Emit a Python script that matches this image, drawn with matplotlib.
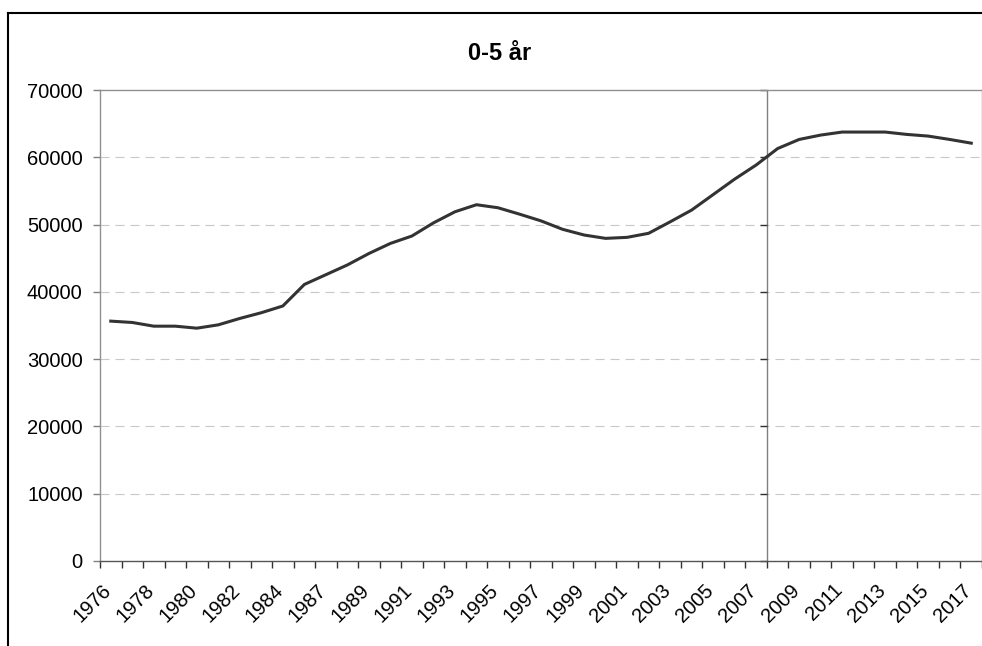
import numpy as np
import matplotlib
matplotlib.use("Agg")
import matplotlib.pyplot as plt
from matplotlib.lines import Line2D
from matplotlib.markers import TICKLEFT

plt.rcParams['font.family'] = ['Liberation Sans', 'DejaVu Sans']
plt.rcParams['lines.scale_dashes'] = False

# years on the category axis (1985 is not in the series)
years = [1976, 1977, 1978, 1979, 1980, 1981, 1982, 1983, 1984, 1986,
         1987, 1988, 1989, 1990, 1991, 1992, 1993, 1994, 1995, 1996,
         1997, 1998, 1999, 2000, 2001, 2002, 2003, 2004, 2005, 2006,
         2007, 2008, 2009, 2010, 2011, 2012, 2013, 2014, 2015, 2016, 2017]
children = [35650, 35450, 34900, 34900, 34600, 35100, 36050, 36900, 37900, 41100,
            42550, 44000, 45700, 47200, 48300, 50250, 51900, 52950, 52500, 51550,
            50550, 49300, 48450, 47950, 48100, 48700, 50400, 52150, 54450, 56750,
            58850, 61300, 62650, 63300, 63750, 63750, 63750, 63400, 63150, 62650, 62100]
prognos_start = 2008
title = "0-5 år"

fig = plt.figure(figsize=(9.82, 6.46), dpi=100)
ax = fig.add_axes([100 / 982, 85 / 646, 882 / 982, 471 / 646])

x = np.arange(len(years))
ax.plot(x, children, color='#333333', lw=2.2, solid_joinstyle='round', zorder=3)

ax.set_xlim(-0.5, len(years) - 0.5)
ax.set_ylim(0, 70000)
ax.set_yticks(np.arange(0, 70001, 10000))
for v in ax.get_yticks()[1:-1]:
    ax.axhline(v, color='#c8c8c8', lw=0.8, ls=(0, (6.5, 4.3)), zorder=1)

# forecast divider drawn like an axis, ticks on its left side
xdiv = years.index(prognos_start) - 0.5
ax.axvline(xdiv, color='#808080', lw=1.0, zorder=2)
ax.plot(np.full(len(ax.get_yticks()), xdiv), ax.get_yticks(), ls='none',
        marker=TICKLEFT, ms=5, mew=1.0, color='#333333', clip_on=False, zorder=2)

# category boundaries carry the ticks, labels sit on every other category
# (rotated labels end a little left of the category centre, like Excel)
ax.set_xticks(np.arange(-0.5, len(years), 1.0))
ax.set_xticklabels([])
ax.set_xticks(x[::2] - 0.42, minor=True)
ax.set_xticklabels([str(years[i]) for i in x[::2]], minor=True,
                   rotation=45, ha='right', va='top', rotation_mode='anchor')
ax.tick_params(axis='x', which='major', length=5, width=1, color='#333333', direction='out')
ax.tick_params(axis='x', which='minor', length=0, pad=14, labelsize=14.5)
ax.tick_params(axis='y', length=5, width=1, color='#808080', pad=7.5, labelsize=14.5)

for s in ['left', 'top', 'right']:
    ax.spines[s].set_color('#909090')
    ax.spines[s].set_linewidth(1.0)
ax.spines['bottom'].set_color('#555555')
ax.spines['bottom'].set_linewidth(1.0)

fig.text(500 / 982, 1 - 53 / 646, title, ha='center', va='center',
         fontsize=17, fontweight='bold')

# outer chart frame (cut off at right and bottom)
fig.add_artist(Line2D([8 / 982, 8 / 982], [0, 1 - 13 / 646], color='black', lw=1.5,
                      transform=fig.transFigure))
fig.add_artist(Line2D([8 / 982, 1], [1 - 13 / 646, 1 - 13 / 646], color='black', lw=1.5,
                      transform=fig.transFigure))

fig.savefig('out.png', dpi=100)
